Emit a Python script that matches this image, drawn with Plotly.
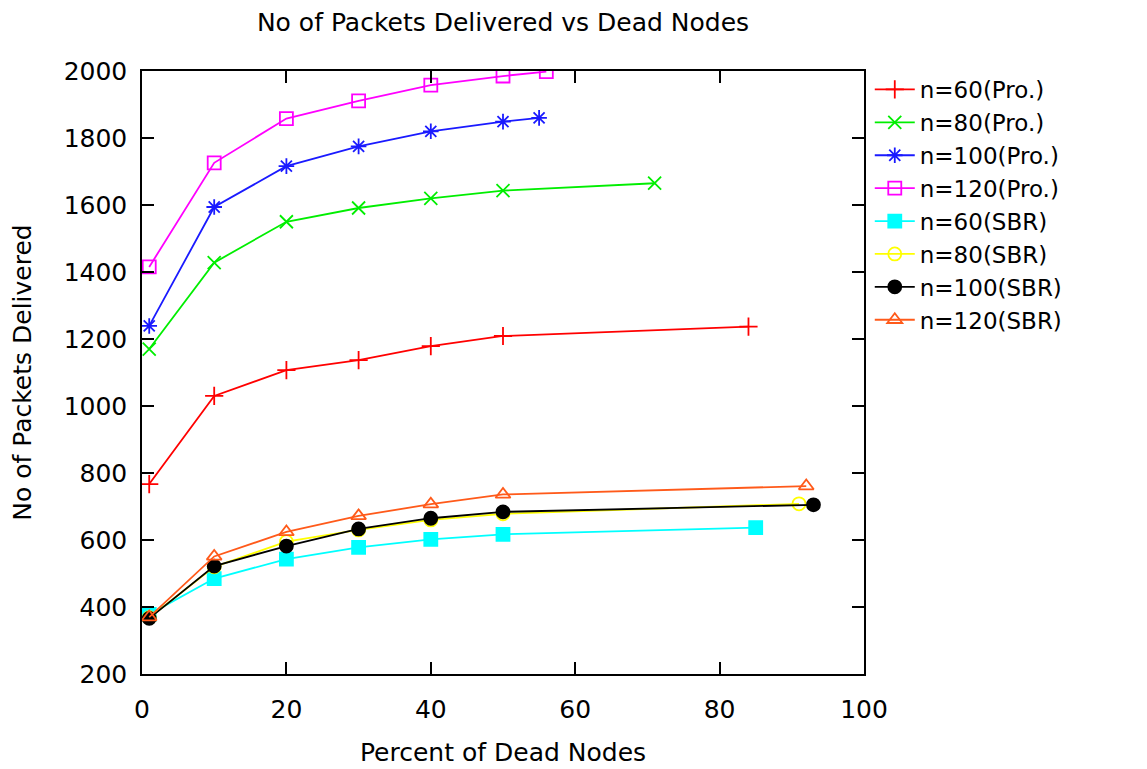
import plotly.graph_objects as go

dead_pro60 = [1, 10, 20, 30, 40, 50, 84]
pkt_pro60 = [767, 1030, 1107, 1137, 1179, 1209, 1237]
dead_pro80 = [1, 10, 20, 30, 40, 50, 71]
pkt_pro80 = [1170, 1428, 1550, 1591, 1620, 1643, 1665]
dead_pro100 = [1, 10, 20, 30, 40, 50, 55]
pkt_pro100 = [1239, 1594, 1716, 1775, 1820, 1849, 1860]
dead_pro120 = [1, 10, 20, 30, 40, 50, 56]
pkt_pro120 = [1415, 1726, 1858, 1911, 1958, 1985, 1998]
dead_sbr60 = [1, 10, 20, 30, 40, 50, 85]
pkt_sbr60 = [378, 485, 543, 578, 602, 617, 637]
dead_sbr80 = [1, 10, 20, 30, 40, 50, 91]
pkt_sbr80 = [368, 520, 595, 630, 660, 678, 708]
dead_sbr100 = [1, 10, 20, 30, 40, 50, 93]
pkt_sbr100 = [366, 522, 582, 633, 665, 684, 705]
dead_sbr120 = [1, 10, 20, 30, 40, 50, 92]
pkt_sbr120 = [370, 551, 624, 672, 707, 736, 761]

series = [
    ("n=60(Pro.)", dead_pro60, pkt_pro60, "#ff0000", "cross-thin-open"),
    ("n=80(Pro.)", dead_pro80, pkt_pro80, "#00ee00", "x-thin-open"),
    ("n=100(Pro.)", dead_pro100, pkt_pro100, "#1a1aff", "asterisk-open"),
    ("n=120(Pro.)", dead_pro120, pkt_pro120, "#ff00ff", "square-open"),
    ("n=60(SBR)", dead_sbr60, pkt_sbr60, "#00ffff", "square"),
    ("n=80(SBR)", dead_sbr80, pkt_sbr80, "#ffff00", "circle-open"),
    ("n=100(SBR)", dead_sbr100, pkt_sbr100, "#000000", "circle"),
    ("n=120(SBR)", dead_sbr120, pkt_sbr120, "#ff5a1a", "triangle-up-open"),
]

fig = go.Figure()
for name, xs, ys, col, sym in series:
    fig.add_trace(go.Scatter(
        x=xs, y=ys, name=name, mode="lines+markers",
        line=dict(color=col, width=1.8),
        marker=dict(symbol=sym, size=13, color=col, line=dict(color=col, width=1.8)),
    ))

font = "DejaVu Sans, sans-serif"
fig.update_layout(
    width=1147, height=769,
    paper_bgcolor="white", plot_bgcolor="white",
    margin=dict(l=134, r=291, t=63, b=103),
    font=dict(family=font, size=25, color="black"),
    title=dict(text="No of Packets Delivered vs Dead Nodes", x=0.5, xref="paper",
               y=0.982, yref="container", yanchor="middle",
               font=dict(size=25, family=font)),
    showlegend=True,
    legend=dict(x=1.008, y=1.005, xanchor="left", yanchor="top",
                font=dict(size=23, family=font), bgcolor="rgba(0,0,0,0)",
                itemwidth=40, tracegroupgap=0),
)
fig.update_xaxes(range=[0, 100], tickvals=[0, 20, 40, 60, 80, 100], automargin=False,
                 showline=True, linecolor="black", linewidth=1.5, mirror="ticks",
                 ticks="inside", ticklen=12, tickcolor="black", tickwidth=1.5,
                 showgrid=False, zeroline=False, ticklabelstandoff=12,
                 title=dict(text="Percent of Dead Nodes", font=dict(size=25), standoff=21))
fig.update_yaxes(range=[200, 2000], tickvals=list(range(200, 2001, 200)), automargin=False,
                 showline=True, linecolor="black", linewidth=1.5, mirror="ticks",
                 ticks="inside", ticklen=12, tickcolor="black", tickwidth=1.5,
                 showgrid=False, zeroline=False, ticklabelstandoff=8,
                 title=dict(text="No of Packets Delivered", font=dict(size=25), standoff=26))
fig.write_html("out.html")
